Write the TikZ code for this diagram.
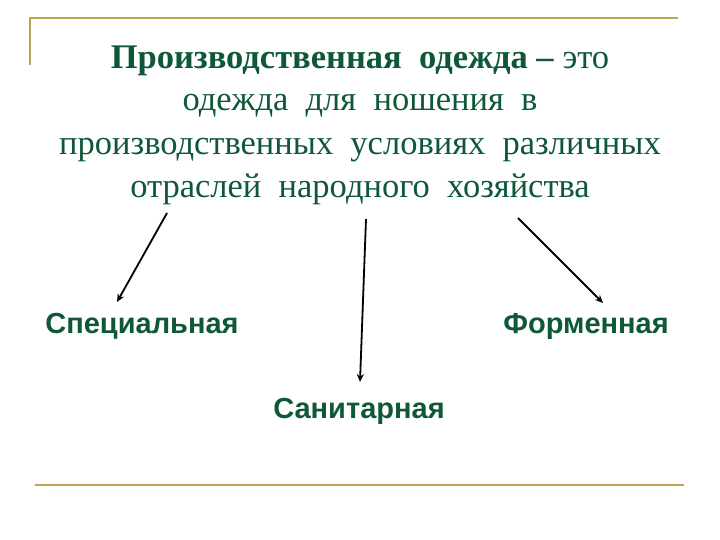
\documentclass[tikz,border=0pt]{standalone}
\usepackage{fontspec}
\setmainfont{Liberation Serif}
\setsansfont{Liberation Sans}
\usetikzlibrary{arrows.meta}
\definecolor{txtgreen}{RGB}{14,88,56}
\definecolor{framegold}{RGB}{190,165,80}
\tikzset{
  titleline/.style={anchor=base, text=txtgreen, font=\fontsize{34.5}{40}\selectfont, inner sep=0pt},
  kind/.style={anchor=base, text=txtgreen, font=\sffamily\bfseries\fontsize{29}{34}\selectfont, inner sep=0pt},
  frameline/.style={draw=framegold, line width=2.2pt},
  branch/.style={-{Stealth[length=8pt,width=7pt]}, line width=1.8pt, black}
}
\begin{document}
\begin{tikzpicture}[x=1pt,y=-1pt]
\useasboundingbox (0,0) rectangle (720,540);
% frame
\draw[frameline] (30,65) -- (30,18) -- (678,18);
\draw[frameline] (35,485) -- (684,485);
% title
\node[titleline] (t1) at (360,69) {\textbf{Производственная\ \ одежда –} это};
\node[titleline] (t2) at (360,111) {одежда\ \ для\ \ ношения\ \ в};
\node[titleline] (t3) at (360,155) {производственных\ \ условиях\ \ различных};
\node[titleline] (t4) at (360,198) {отраслей\ \ народного\ \ хозяйства};
% kinds
\node[kind] (k1) at (142,333) {Специальная};
\node[kind] (k2) at (586,333) {Форменная};
\node[kind] (k3) at (359,418) {Санитарная};
% arrows
\coordinate (s1) at (167,213);
\coordinate (e1) at (117,302);
\coordinate (s2) at (366,219);
\coordinate (e2) at (360,382);
\coordinate (s3) at (518,218);
\coordinate (e3) at (603,303);
\draw[branch] (s1) -- (e1);
\draw[branch] (s2) -- (e2);
\draw[branch] (s3) -- (e3);
\end{tikzpicture}
\end{document}
